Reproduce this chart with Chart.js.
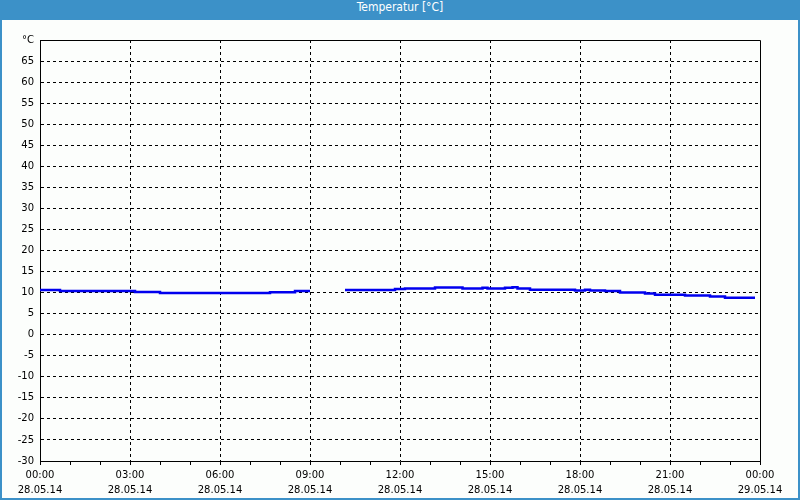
<!DOCTYPE html>
<html>
<head>
<meta charset="utf-8">
<script src="https://cdn.jsdelivr.net/npm/chart.js@4"></script>
<style>
  body { margin: 0; }
  #frame { width: 800px; height: 500px; box-sizing: border-box; background: #fcfefc; }
  #title {
    height: 20px; line-height: 20px; background: #3c91c8; color: #fff; text-align: center;
    font: 12px "Liberation Sans Narrow", "DejaVu Sans Condensed", "Liberation Sans", sans-serif;
  }
  #box { width: 796px; height: 478px; border: 2px solid #3c91c8; border-top: 0; }
  canvas { display: block; }
</style>
</head>
<body>
<div id="frame">
  <div id="title">Temperatur [°C]</div>
  <div id="box"><canvas id="chart" width="796" height="478"></canvas></div>
</div>
<script>
// measurement times and temperatures (°C); null = no data
const times = ['00:00', '00:40', '03:10', '04:00', '07:40', '08:30', '09:00', '09:30',
  '10:10', '11:50', '12:10', '13:10', '14:05', '14:45', '14:55', '15:30', '15:45', '15:55',
  '16:20', '17:50', '18:10', '18:20', '18:50', '19:20', '20:10', '20:30', '21:30', '22:20',
  '22:50', '23:50'];
const temps = [10.6, 10.4, 10.15, 9.9, 10.1, 10.4, 10.4, null,
  10.6, 10.85, 11.0, 11.2, 11.0, 11.15, 11.0, 11.15, 11.3, 11.0,
  10.7, 10.5, 10.7, 10.5, 10.4, 10.0, 9.8, 9.5, 9.3, 9.1,
  8.8, 8.8];
const hourLabels = ['00:00', '03:00', '06:00', '09:00', '12:00', '15:00', '18:00', '21:00', '00:00'];
const dateLabels = ['28.05.14', '28.05.14', '28.05.14', '28.05.14', '28.05.14',
  '28.05.14', '28.05.14', '28.05.14', '29.05.14'];

const toHours = t => {
  const [h, m] = t.split(':').map(Number);
  return h + m / 60;
};

const frameBox = {
  id: 'frameBox',
  afterDraw(chart) {
    const { ctx, chartArea: a } = chart;
    ctx.save();
    ctx.strokeStyle = '#000';
    ctx.lineWidth = 1;
    ctx.beginPath();
    ctx.moveTo(Math.round(a.left) + 0.5, Math.round(a.top) + 0.5);
    ctx.lineTo(Math.round(a.right) + 0.5, Math.round(a.top) + 0.5);
    ctx.lineTo(Math.round(a.right) + 0.5, Math.round(a.bottom) + 0.5);
    ctx.stroke();
    ctx.restore();
  }
};

const font = { family: 'DejaVu Sans', size: 10, lineHeight: 1.5 };

new Chart(document.getElementById('chart'), {
  type: 'line',
  data: {
    datasets: [{
      data: times.map((t, i) => ({ x: toHours(t), y: temps[i] })),
      borderColor: '#0000ee',
      borderWidth: 2.5,
      pointRadius: 0,
      stepped: 'before',
      spanGaps: false,
      fill: false
    }]
  },
  options: {
    responsive: false,
    animation: false,
    layout: { padding: { top: 20, right: 38, left: 0, bottom: 0 } },
    plugins: { legend: { display: false }, tooltip: { enabled: false } },
    scales: {
      x: {
        type: 'linear',
        min: 0,
        max: 24,
        afterFit: s => { s.height = 37; },
        border: { color: '#000', width: 1, dash: [3, 3] },
        grid: {
          color: c => (c.tick && c.tick.value % 3 === 0 && c.tick.value > 0 && c.tick.value < 24) ? '#000' : 'rgba(0,0,0,0)',
          tickColor: '#000',
          tickLength: 4,
          tickBorderDash: []
        },
        ticks: {
          stepSize: 1,
          autoSkip: false,
          maxRotation: 0,
          padding: 3,
          color: '#000',
          font,
          callback: v => v % 3 === 0 ? [hourLabels[v / 3], dateLabels[v / 3]] : ''
        }
      },
      y: {
        min: -30,
        max: 70,
        afterFit: s => { s.width = 38; },
        border: { color: '#000', width: 1, dash: [3, 3] },
        grid: {
          drawTicks: false,
          color: c => (c.tick && c.tick.value > -30 && c.tick.value < 70) ? '#000' : 'rgba(0,0,0,0)'
        },
        ticks: {
          stepSize: 5,
          padding: 6,
          color: '#000',
          font,
          callback: v => v === 70 ? '°C' : v
        }
      }
    }
  },
  plugins: [frameBox]
});
</script>
</body>
</html>
